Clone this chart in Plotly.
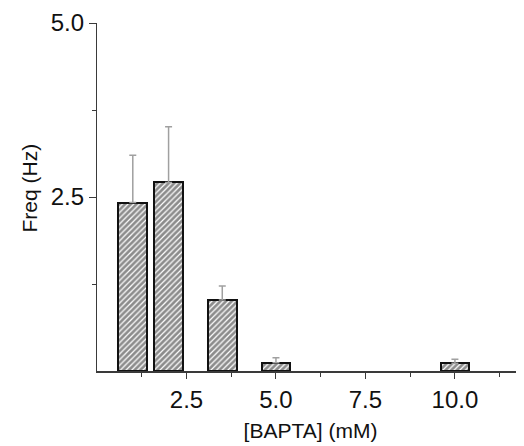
import plotly.graph_objects as go

# Data
conc = [1.0, 2.0, 3.5, 5.0, 10.0]
freq = [2.42, 2.71, 1.02, 0.12, 0.11]
err_up = [0.68, 0.80, 0.20, 0.07, 0.06]
err_down = [0, 0, 0, 0, 0]

x_tickvals = [2.5, 5.0, 7.5, 10.0]
x_ticktext = ["2.5", "5.0", "7.5", "10.0"]
x_minor = [1.25, 3.75, 6.25, 8.75, 11.25]
y_tickvals = [2.5, 5.0]
y_ticktext = ["2.5", "5.0"]
y_minor = [1.25, 3.75]

axis_color = "#3a3a3a"
font_family = "Liberation Sans, Arial, sans-serif"

fig = go.Figure()
fig.add_trace(go.Bar(
    x=conc, y=freq, width=0.8,
    marker=dict(
        color="white",
        line=dict(color="#111111", width=2),
        pattern=dict(shape="/", fgcolor="#1a1a1a", bgcolor="white", size=4, solidity=0.7),
    ),
    error_y=dict(type="data", symmetric=False, array=err_up, arrayminus=err_down,
                 color="#a0a0a0", thickness=1.5, width=3.5),
    showlegend=False,
))

fig.update_layout(
    width=516, height=438,
    margin=dict(l=89, r=0, t=15, b=75),
    plot_bgcolor="white", paper_bgcolor="white",
    font=dict(family=font_family, color="#111111"),
    bargap=0,
    annotations=[dict(
        text="Freq (Hz)", textangle=-90, showarrow=False,
        xref="paper", yref="y", x=-0.158, y=2.63,
        xanchor="center", yanchor="middle",
        font=dict(size=21, family=font_family, color="#111111"),
    )],
)
fig.update_xaxes(
    range=[0, 11.93],
    tickmode="array", tickvals=x_tickvals, ticktext=x_ticktext,
    ticks="outside", ticklen=6, tickwidth=1.3, tickcolor=axis_color,
    minor=dict(tickmode="array", tickvals=x_minor, ticks="outside", ticklen=4,
               tickwidth=1.3, tickcolor=axis_color, showgrid=False),
    showline=True, linecolor=axis_color, linewidth=2,
    showgrid=False, zeroline=False,
    tickfont=dict(size=24, family=font_family, color="#111111"),
    title=dict(text="[BAPTA] (mM)", font=dict(size=21, family=font_family, color="#111111"), standoff=12),
)
fig.update_yaxes(
    range=[0, 5],
    tickmode="array", tickvals=y_tickvals, ticktext=y_ticktext,
    ticks="outside", ticklen=7, tickwidth=1.3, tickcolor=axis_color,
    minor=dict(tickmode="array", tickvals=y_minor, ticks="outside", ticklen=4,
               tickwidth=1.3, tickcolor=axis_color, showgrid=False),
    showline=True, linecolor=axis_color, linewidth=1.3,
    showgrid=False, zeroline=False,
    tickfont=dict(size=24, family=font_family, color="#111111"),
)

fig.write_html("out.html")
